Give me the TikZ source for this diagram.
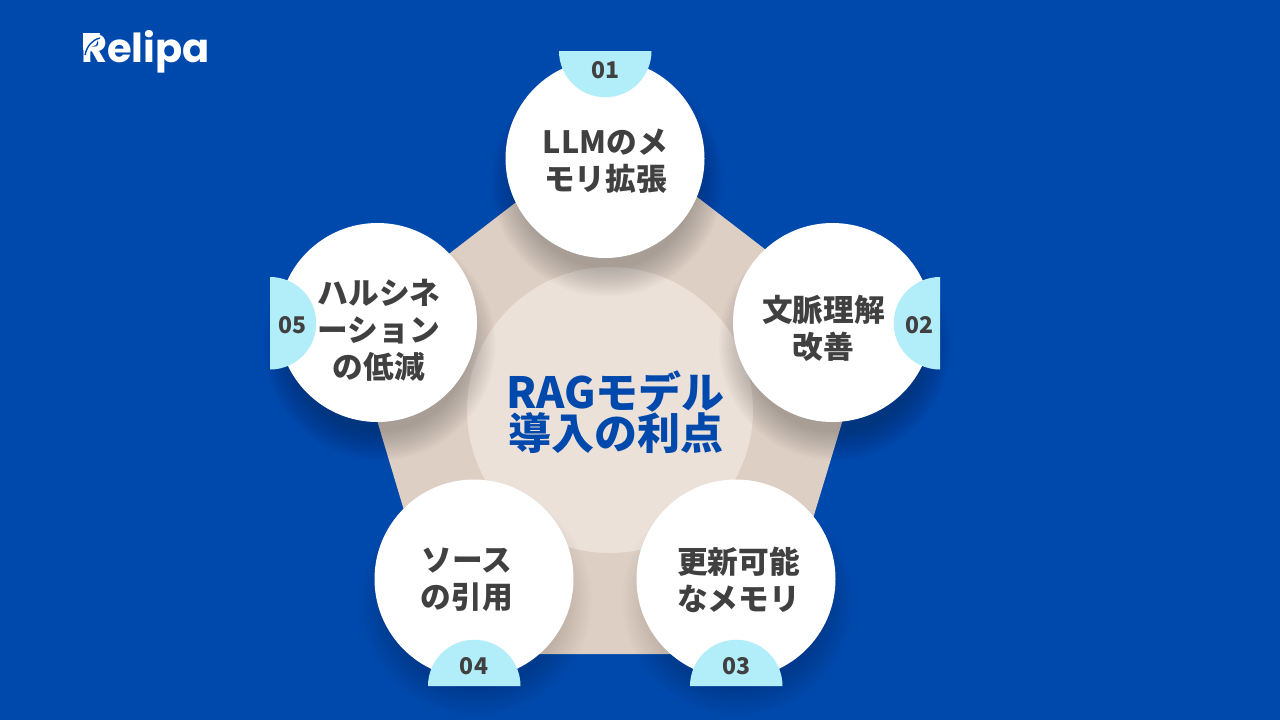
\documentclass[tikz,border=0pt]{standalone}
\usepackage{fontspec}
\newfontfamily\jpfont{Noto Sans CJK JP}
\newfontfamily\logofont{Poppins}
\definecolor{bgblue}{HTML}{0049AC}
\definecolor{sand}{HTML}{DDCFC3}
\definecolor{paleSand}{HTML}{ECE1D9}
\definecolor{badgeBlue}{HTML}{B2EDFA}
\definecolor{inkGrey}{HTML}{404040}
% soft shadow below one petal
\newcommand{\petalshadow}[3]{
    \foreach \r in {88,90,...,116}
        \fill [black, opacity=#3] (#1+2,#2+22) circle (\r);
}

\begin{document}
\begin{tikzpicture}[
    x=1pt, y=-1pt,
    petal/.style={circle, fill=white, minimum size=199pt, inner sep=0pt},
    petaltext/.style={font=\jpfont\bfseries\fontsize{30.7}{37}\selectfont, text=inkGrey, align=center, inner sep=0pt},
    badge/.style={fill=badgeBlue},
    badgetext/.style={font=\jpfont\bfseries\fontsize{23}{26}\selectfont, text=inkGrey, inner sep=0pt},
    centertext/.style={font=\jpfont\bfseries\fontsize{43}{41}\selectfont, text=bgblue, align=center, inner sep=0pt}
    ]
    \path [fill=bgblue] (0,0) rectangle (1280,720);
    \useasboundingbox (0,0) rectangle (1280,720);

    % pentagon and centre
    \coordinate (pTop) at (610,130);
    \coordinate (pRight) at (870,330);
    \coordinate (pLowR) at (772,654);
    \coordinate (pLowL) at (447,654);
    \coordinate (pLeft) at (350,330);
    \fill [sand] (pTop) -- (pRight) -- (pLowR) -- (pLowL) -- (pLeft) -- cycle;
    \node [circle, fill=paleSand, minimum size=286pt, inner sep=0pt] (hub) at (610,410) {};

    \petalshadow{605}{158.5}{.016}
    \petalshadow{833}{322.5}{.014}
    \petalshadow{736}{579}{.006}
    \petalshadow{474}{579}{.006}
    \petalshadow{377.5}{322.5}{.014}

    \node [petal] (mOne) at (605,158.5) {};
    \node [petal] (mTwo) at (832.5,322.5) {};
    \node [petal] (mThree) at (736,579) {};
    \node [petal] (mFour) at (474,579) {};
    \node [petal] (mFive) at (377.5,322.5) {};

    % half discs on the rim
    \fill [badge] (559,51) arc [start angle=180, end angle=0, radius=46.25] -- cycle;
    \fill [badge] (940,277) arc [start angle=270, end angle=90, radius=46.25] -- cycle;
    \fill [badge] (690,686) arc [start angle=180, end angle=360, radius=46.25] -- cycle;
    \fill [badge] (428,686) arc [start angle=180, end angle=360, radius=46.25] -- cycle;
    \fill [badge] (270,277) arc [start angle=-90, end angle=90, radius=46.25] -- cycle;

    \node [badgetext] (nOne) at (605,70) {01};
    \node [badgetext] (nTwo) at (919,325) {02};
    \node [badgetext] (nThree) at (736,666) {03};
    \node [badgetext] (nFour) at (474,666) {04};
    \node [badgetext] (nFive) at (292.5,325) {05};

    \node [petaltext] (tOne) at (605.5,161) {LLMのメ\\モリ拡張};
    \node [petaltext] (tTwo) at (823.5,328) {文脈理解\\改善};
    \node [petaltext] (tThree) at (738.5,580) {更新可能\\なメモリ};
    \node [petaltext] (tFour) at (467,580) {ソース\\の引用};
    \node [petaltext] (tFive) at (379,330) {ハルシネ\\ーション\\の低減};

    \node [centertext] (tHub) at (615.5,412.5) {RAGモデル\\導入の利点};

    \node [font=\logofont\bfseries\fontsize{40}{40}\selectfont, text=white, inner sep=0pt, anchor=base west] (logo) at (81,62) {Relipa};
    % cut through the first letter of the logo
    \fill [white] (83,33) -- (100,33) -- (96,45) -- (83,50) -- cycle;
    \draw [bgblue, line width=1.4pt] (100,38) .. controls (92,40) and (87,46) .. (85,55);
\end{tikzpicture}
\end{document}
